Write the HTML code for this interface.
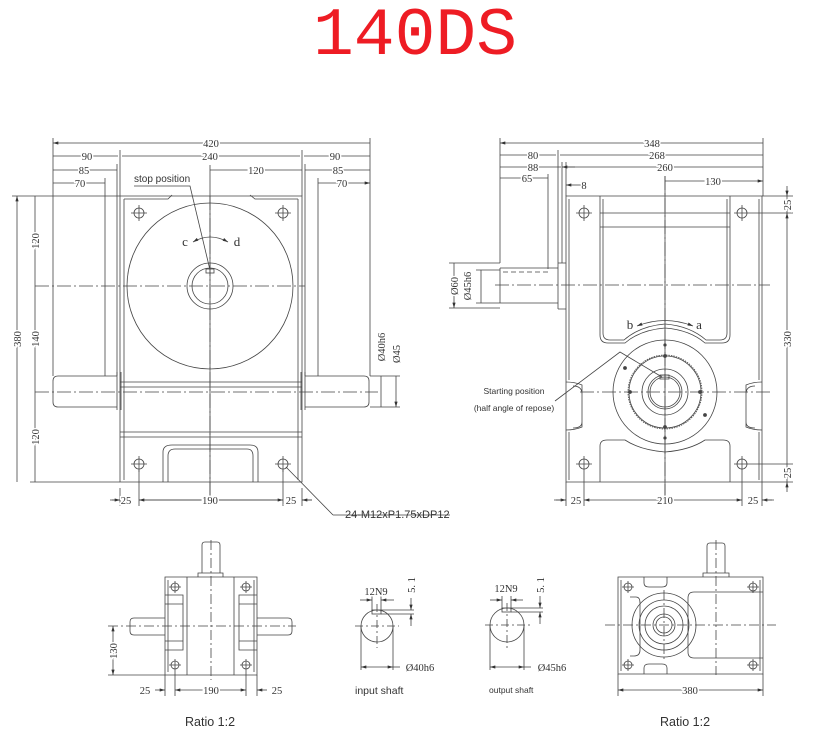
<!DOCTYPE html>
<html><head><meta charset="utf-8"><style>
html,body{margin:0;padding:0;background:#fff;}
svg{display:block;}
text{font-family:"Liberation Serif",serif;fill:#333;}
.d text{paint-order:stroke;stroke:#fff;stroke-width:3px;}
.s{font-family:"Liberation Sans",sans-serif;}
</style></head><body>
<svg width="813" height="743" viewBox="0 0 813 743" xmlns="http://www.w3.org/2000/svg">
<defs>
<marker id="a" viewBox="0 0 10 6" refX="10" refY="3" markerWidth="7" markerHeight="4" orient="auto-start-reverse"><path d="M0,0L10,3L0,6z" fill="#333"/></marker>
</defs>
<text x="415" y="54" text-anchor="middle" style="font-family:'Liberation Mono',monospace;font-size:68px;fill:#ee1c24">140DS</text>

<g stroke="#444" stroke-width="0.8" fill="none">
<path d="M53,138V376 M370,138V376 M120,150V196 M302,150V196 M117,164V376 M305,164V376 M105,178V376 M318,178V376 M210,165V500"/>
<path d="M120,196H302V482H120Z"/>
<path d="M124,199H168L172,195 M250,195L255,199H298 M124,199V480 M298,199V480"/>
<path d="M120,382H302 M120,387H302 M120,432H302 M120,437H302"/>
<circle cx="210" cy="286" r="83"/>
<circle cx="210" cy="286" r="23"/><circle cx="210" cy="286" r="18"/>
<rect x="206" y="269" width="8" height="4"/>
<path d="M117,376H58Q53,376 53,381V402Q53,407 58,407H117 M117,372V410 M121,372V410"/>
<path d="M305,376H364Q369,376 369,381V402Q369,407 364,407H305 M305,372V410 M301,372V410"/>
<path d="M163,482V452Q163,445 172,445H250Q258,445 258,452V482 M168,482V456Q168,449 175,449H247Q253,449 253,456V482"/>
<g><circle cx="139" cy="213" r="5"/><circle cx="283" cy="213" r="5"/><circle cx="139" cy="464" r="5"/><circle cx="283" cy="464" r="5"/>
<path d="M131,213H147M139,205V221M275,213H291M283,205V221M131,464H147M139,456V472M275,464H291M283,456V472"/></g>
<path stroke-dasharray="14,3,2,3" d="M35,286H305 M35,392H378 M210,196V500"/>
<g marker-start="url(#a)" marker-end="url(#a)">
<path d="M53,143H370 M53,156H118 M122,156H300 M304,156H370 M53,170H117 M210,170H302 M305,170H370 M53,183H105 M318,183H370"/>
<path d="M17,196V482 M35,196V286 M35,286V392 M35,392V482 M381,376V407 M396,376V407"/>
</g>
<path d="M12,196H120 M30,482H120 M370,376H400 M370,407H400"/>
<path d="M110,500H120 M139,500H283 M302,500H312 M120,488V506 M139,470V506 M283,470V506 M302,488V506" />
<path marker-end="url(#a)" d="M112,500H120"/><path marker-end="url(#a)" d="M312,500H302"/>
<path marker-start="url(#a)" marker-end="url(#a)" d="M139,500H283"/>
<path d="M333,515L286,467 M333,515H450"/>
<path d="M134,186H190L210,270"/>
<path marker-start="url(#a)" marker-end="url(#a)" d="M193,242Q210,232 228,242"/>

<path d="M500,138V263 M763,138V196 M558,150V263 M562,162V263 M566,162V196 M548,174V268 M665,176V500"/>
<path d="M566,196H762V482H566Z M569,199V380 M569,432V480 M759,199V380 M759,432V480"/>
<path d="M600,196V335Q600,343 608,343H625Q640,330 665,328Q690,330 705,343H722Q730,343 730,335V196"/>
<path d="M603,199V333Q603,340 610,340H624Q640,326 665,324Q690,326 706,340H720Q727,340 727,333V199"/>
<path d="M600,213H730 M600,227H730"/>
<path d="M600,482V446Q600,440 607,440H625Q640,450 665,452Q690,450 705,440H723Q730,440 730,446V482"/>
<path d="M566,382Q575,382 582,385V427Q575,430 566,430 M573,386Q582,386 582,394V422Q582,428 573,428"/>
<path d="M762,382Q753,382 746,385V427Q753,430 762,430 M755,386Q746,386 746,394V422Q746,428 755,428"/>
<circle cx="665" cy="392" r="52"/>
<circle cx="665" cy="392" r="37" stroke-dasharray="1.5,1"/>
<circle cx="665" cy="392" r="36"/>
<circle cx="665" cy="392" r="23"/><circle cx="665" cy="392" r="17"/><circle cx="665" cy="392" r="15"/>
<rect x="660" y="375" width="9" height="4"/>
<g fill="#444"><circle cx="665" cy="345" r="1.2"/><circle cx="665" cy="356" r="1.5"/><circle cx="665" cy="427" r="1.5"/><circle cx="665" cy="438" r="1.2"/><circle cx="630" cy="392" r="1.5"/><circle cx="700" cy="392" r="1.5"/><circle cx="625" cy="368" r="1.5"/><circle cx="705" cy="415" r="1.5"/></g>
<path d="M558,263H566 M558,309H566 M558,263V309 M500,268H558 M500,303H558 M500,268V303"/>
<path stroke-dasharray="5,3" d="M503,272H548V268"/>
<circle cx="584" cy="213" r="5"/><circle cx="742" cy="213" r="5"/><circle cx="584" cy="464" r="5"/><circle cx="742" cy="464" r="5"/>
<path d="M576,213H592M584,205V221M734,213H750M742,205V221M576,464H592M584,456V506M734,464H750M742,456V506M566,482V506M762,482V506"/>
<path stroke-dasharray="14,3,2,3" d="M495,285H770 M580,392H770 M665,176V500"/>
<g marker-start="url(#a)" marker-end="url(#a)">
<path d="M500,143H763 M500,155H556 M560,155H763 M500,167H561 M566,167H763 M500,178H548 M665,181H763"/>
<path d="M787,213V464 M481,270V303 M454,263V308"/>
</g>
<path marker-end="url(#a)" d="M575,167H562"/><path marker-end="url(#a)" d="M580,185H566"/>
<path d="M580,185H585"/>
<path marker-end="url(#a)" d="M787,186V196"/><path marker-end="url(#a)" d="M787,492V482"/>
<path d="M787,196V213 M787,464V482 M762,196H793 M750,213H793 M750,464H793 M762,482H793"/>
<path d="M449,263H500 M449,308H500 M476,270H500 M476,303H500"/>
<path marker-end="url(#a)" d="M556,500H566"/><path marker-end="url(#a)" d="M772,500H762"/>
<path marker-start="url(#a)" marker-end="url(#a)" d="M584,500H742"/>
<path d="M554,500H566 M762,500H774"/>
<path d="M555,401L620,352L662,377"/>
<path marker-start="url(#a)" marker-end="url(#a)" d="M637,326Q665,315 693,326"/>

<path d="M165,577H257V675H165Z M187,577V675 M234,577V675 M168,580V672 M254,580V672"/>
<path d="M202,573V545Q202,542 205,542H217Q220,542 220,545V573 M198,577V573H223V577"/>
<path d="M165,595H183V650H165 M165,604H183 M165,641H183 M257,595H239V650H257 M257,604H239 M257,641H239"/>
<path d="M165,618H134Q130,618 130,622V631Q130,635 134,635H165 M257,618H288Q292,618 292,622V631Q292,635 288,635H257"/>
<circle cx="175" cy="587" r="4"/><circle cx="246" cy="587" r="4"/><circle cx="175" cy="665" r="4"/><circle cx="246" cy="665" r="4"/>
<path d="M169,587H181M175,581V593M240,587H252M246,581V593M169,665H181M175,659V696M240,665H252M246,659V696M165,675V696M257,675V696"/>
<path stroke-dasharray="10,3,2,3" d="M108,626H296 M211,540V680"/>
<path marker-start="url(#a)" marker-end="url(#a)" d="M113,626V675"/>
<path d="M108,675H165"/>
<path marker-end="url(#a)" d="M155,690H165"/><path marker-end="url(#a)" d="M267,690H257"/>
<path marker-start="url(#a)" marker-end="url(#a)" d="M175,690H246"/>

<circle cx="377" cy="626" r="16"/>
<rect x="372" y="610" width="9" height="4"/>
<path stroke-dasharray="8,3,2,3" d="M355,626H399 M377,604V648"/>
<path d="M372,596V612 M381,596V612 M381,610H414 M381,614H414 M361,626V670 M393,626V670"/>
<path marker-end="url(#a)" d="M360,600H372"/><path marker-end="url(#a)" d="M394,600H381"/>
<path marker-end="url(#a)" d="M411,598V610"/><path marker-end="url(#a)" d="M411,626V614"/>
<path marker-start="url(#a)" marker-end="url(#a)" d="M361,667H393"/><path d="M393,667H400"/>

<circle cx="507" cy="625" r="17"/>
<rect x="502" y="608" width="9" height="4"/>
<path stroke-dasharray="8,3,2,3" d="M485,625H530 M507,603V648"/>
<path d="M502,596V610 M511,596V610 M511,608H543 M511,612H543 M490,625V670 M524,625V670"/>
<path marker-end="url(#a)" d="M490,600H502"/><path marker-end="url(#a)" d="M523,600H511"/>
<path marker-end="url(#a)" d="M540,596V608"/><path marker-end="url(#a)" d="M540,624V612"/>
<path marker-start="url(#a)" marker-end="url(#a)" d="M490,667H524"/><path d="M524,667H531"/>

<path d="M618,577H763V674H618Z M621,580V671 M760,580V671"/>
<path d="M707,573V546Q707,543 710,543H722Q725,543 725,546V573 M703,577V573H729V577"/>
<path d="M644,577V583Q644,587 649,587H662Q667,587 667,583V577 M644,674V668Q644,664 649,664H662Q667,664 667,668V674"/>
<path d="M763,592H694Q688,592 688,598V652Q688,658 694,658H763"/>
<path d="M630,597H636Q640,597 640,603V650Q640,656 634,656H630"/>
<circle cx="664" cy="625" r="32"/><circle cx="664" cy="625" r="25"/><circle cx="664" cy="625" r="19"/><circle cx="664" cy="625" r="11"/><circle cx="664" cy="625" r="8"/>
<circle cx="628" cy="587" r="4"/><circle cx="753" cy="587" r="4"/><circle cx="628" cy="665" r="4"/><circle cx="753" cy="665" r="4"/>
<path d="M622,587H634M628,581V593M747,587H759M753,581V593M622,665H634M628,659V671M747,665H759M753,659V671M618,674V696M763,674V696"/>
<path stroke-dasharray="10,3,2,3" d="M605,625H776 M664,590V660 M716,540V675"/>
<path marker-start="url(#a)" marker-end="url(#a)" d="M618,690H763"/>
</g>

<g class="d" font-size="10.5" text-anchor="middle">
<text x="211" y="147">420</text>
<text x="87" y="160">90</text><text x="210" y="160">240</text><text x="335" y="160">90</text>
<text x="84" y="174">85</text><text x="256" y="174">120</text><text x="338" y="174">85</text>
<text x="80" y="187">70</text><text x="342" y="187">70</text>
<text x="126" y="504">25</text><text x="210" y="504">190</text><text x="291" y="504">25</text>
<text transform="translate(21,339) rotate(-90)">380</text>
<text transform="translate(39,241) rotate(-90)">120</text>
<text transform="translate(39,339) rotate(-90)">140</text>
<text transform="translate(39,437) rotate(-90)">120</text>
<text transform="translate(385,347) rotate(-90)">Ø40h6</text>
<text transform="translate(400,354) rotate(-90)">Ø45</text>
<text x="185" y="246" font-size="13">c</text><text x="237" y="246" font-size="13">d</text>

<text x="652" y="147">348</text>
<text x="533" y="159">80</text><text x="657" y="159">268</text>
<text x="533" y="171">88</text><text x="665" y="171">260</text>
<text x="527" y="182">65</text><text x="713" y="185">130</text>
<text x="584" y="189">8</text>
<text x="576" y="504">25</text><text x="665" y="504">210</text><text x="753" y="504">25</text>
<text transform="translate(791,205) rotate(-90)">25</text>
<text transform="translate(791,339) rotate(-90)">330</text>
<text transform="translate(791,473) rotate(-90)">25</text>
<text transform="translate(458,286) rotate(-90)">Ø60</text>
<text transform="translate(471,286) rotate(-90)">Ø45h6</text>
<text x="630" y="329" font-size="13">b</text><text x="699" y="329" font-size="13">a</text>

<text x="145" y="694">25</text><text x="211" y="694">190</text><text x="277" y="694">25</text>
<text transform="translate(117,651) rotate(-90)">130</text>
<text x="376" y="595">12N9</text><text x="506" y="592">12N9</text>
<text transform="translate(415,585) rotate(-90)">5. 1</text>
<text transform="translate(544,585) rotate(-90)">5. 1</text>
<text x="420" y="671">Ø40h6</text><text x="552" y="671">Ø45h6</text>
<text x="690" y="694">380</text>
</g>
<g fill="#444">
<text class="s" x="134" y="182" font-size="10">stop position</text>
<text class="s" x="345" y="518" font-size="11">24-M12xP1.75xDP12</text>
<text class="s" x="514" y="394" font-size="8.5" text-anchor="middle">Starting position</text>
<text class="s" x="514" y="411" font-size="8.5" text-anchor="middle">(half angle of repose)</text>
<text class="s" x="355" y="694" font-size="10.5">input shaft</text>
<text class="s" x="489" y="693" font-size="8.5">output shaft</text>
<text class="s" x="185" y="726" font-size="12.5">Ratio 1:2</text>
<text class="s" x="660" y="726" font-size="12.5">Ratio 1:2</text>
</g>
</svg>
</body></html>
